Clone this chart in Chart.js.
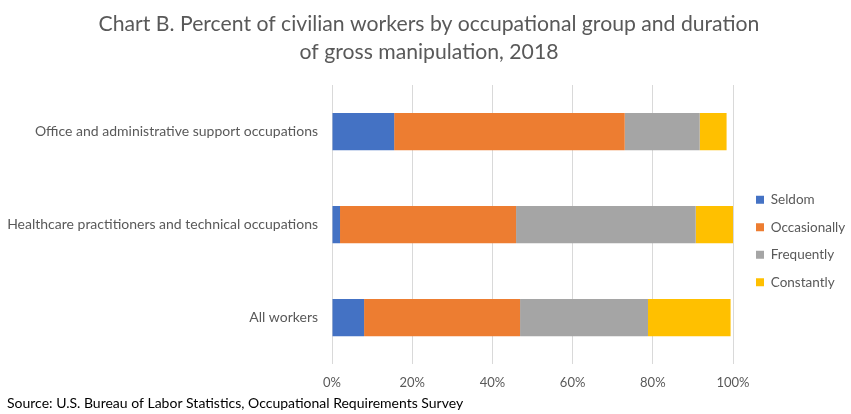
<!DOCTYPE html>
<html>
<head>
<meta charset="utf-8">
<script src="https://cdn.jsdelivr.net/npm/chart.js@4/dist/chart.umd.min.js"></script>
<style>
  html, body { margin: 0; padding: 0; background: #fff; }
  #wrap { width: 851px; height: 414px; }
</style>
</head>
<body>
<div id="wrap"><canvas id="chartB" width="851" height="414"></canvas></div>
<script>
var categories = [
    "Office and administrative support occupations",
    "Healthcare practitioners and technical occupations",
    "All workers"
];
var seldom = [15.5, 2.0, 8.0];
var occasionally = [57.5, 43.9, 38.9];
var frequently = [18.7, 44.8, 31.9];
var constantly = [6.7, 9.3, 20.6];
var xTicks = [0, 20, 40, 60, 80, 100];

var FONT = "Lato";
var TEXT_GRAY = "#595959";

var ctx = document.getElementById('chartB').getContext('2d');

var chartB = new Chart(ctx, {
    type: 'bar',
    data: {
        labels: categories,
        datasets: [
            { label: 'Seldom', data: seldom, backgroundColor: '#4472C4', yAxisID: 'y' },
            { label: 'Occasionally', data: occasionally, backgroundColor: '#ED7D31', yAxisID: 'y' },
            { label: 'Frequently', data: frequently, backgroundColor: '#A5A5A5', yAxisID: 'y' },
            { label: 'Constantly', data: constantly, backgroundColor: '#FFC000', yAxisID: 'y' }
        ]
    },
    options: {
        indexAxis: 'y',
        responsive: false,
        animation: false,
        devicePixelRatio: 1,
        datasets: {
            bar: { barPercentage: 0.8, categoryPercentage: 0.5 }
        },
        layout: { padding: { left: 7, right: 0, top: 4, bottom: 2 } },
        scales: {
            x: {
                stacked: true,
                min: 0,
                max: 100,
                afterBuildTicks: function (scale) {
                    scale.ticks = xTicks.map(function (v) { return { value: v }; });
                },
                ticks: {
                    callback: function (v) { return v + '%'; },
                    color: TEXT_GRAY,
                    font: { family: FONT, size: 13 },
                    padding: 11
                },
                grid: { color: '#d9d9d9', drawTicks: false },
                border: { display: false },
                afterFit: function (scale) { scale.height = 26; }
            },
            y: {
                stacked: true,
                ticks: {
                    color: TEXT_GRAY,
                    font: { family: FONT, size: 14 },
                    padding: 6
                },
                grid: { display: false },
                border: { display: false },
                afterFit: function (scale) { scale.width = 325; }
            },
            // empty strip between plot and legend
            y2: {
                position: 'right',
                grid: { display: false },
                border: { display: false },
                ticks: { display: false },
                afterFit: function (scale) { scale.width = 9; }
            }
        },
        plugins: {
            title: {
                display: true,
                text: ['Chart B. Percent of civilian workers by occupational group and duration',
                       'of gross manipulation, 2018'],
                color: TEXT_GRAY,
                font: { family: FONT, size: 21.2, weight: 'normal', lineHeight: '28px' },
                padding: { top: 6, bottom: 19 }
            },
            subtitle: {
                display: true,
                position: 'bottom',
                align: 'start',
                text: 'Source: U.S. Bureau of Labor Statistics, Occupational Requirements Survey',
                color: '#000000',
                font: { family: FONT, size: 14 },
                padding: { top: 5, bottom: 0 }
            },
            legend: {
                position: 'right',
                maxWidth: 109,
                title: {
                    display: true,
                    text: ' ',
                    font: { size: 10, lineHeight: 1.2 },
                    padding: { top: 54, bottom: 0 }
                },
                labels: {
                    boxWidth: 8,
                    boxHeight: 8,
                    padding: 14,
                    color: TEXT_GRAY,
                    font: { family: FONT, size: 13.5 }
                }
            },
            tooltip: { enabled: false }
        }
    }
});
</script>
</body>
</html>
